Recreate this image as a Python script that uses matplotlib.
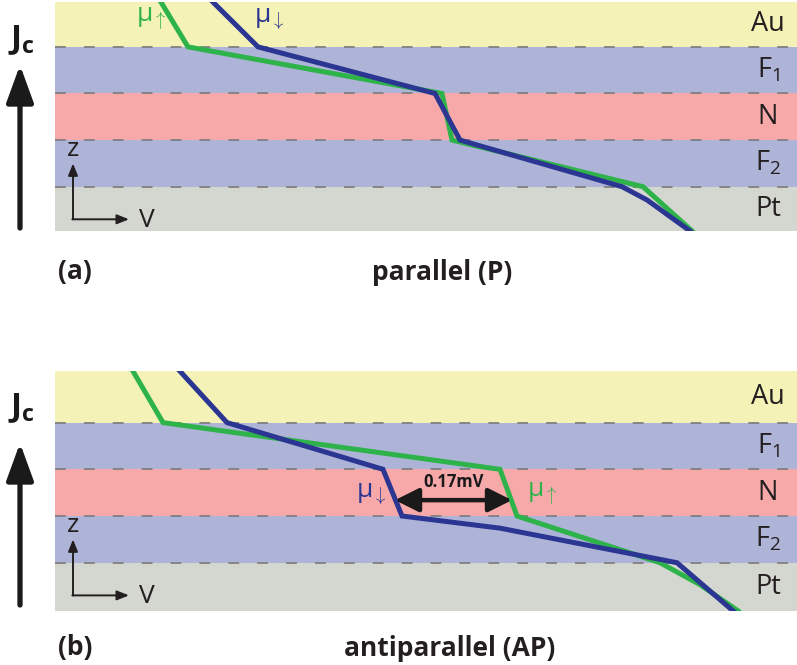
import matplotlib
matplotlib.use("Agg")
import matplotlib.pyplot as plt

plt.rcParams.update({
    "font.family": ["Open Sans", "DejaVu Sans"],
    "mathtext.fontset": "custom",
    "mathtext.rm": "Open Sans",
    "mathtext.it": "Open Sans",
    "mathtext.bf": "Open Sans:bold",
})

# layer stack (bottom -> top), interfaces at z = 0..3
layer_names = ["Pt", "F$_2$", "N", "F$_1$", "Au"]
layer_colors = ["#d4d7d0", "#aeb4d8", "#f7a8a8", "#aeb4d8", "#f5f2b8"]
interfaces = [0, 1, 2, 3]

# parallel (P): electrochemical potentials, V in arb. units vs depth z
z_up_p = [3.96, 3, 2, 1, 0, -0.95]
v_up_p = [106, 133, 387, 397, 588, 637]
z_dn_p = [3.96, 3, 2, 1, 0, -0.285, -0.95]
v_dn_p = [158, 203, 380, 405, 567, 592, 635]

# antiparallel (AP)
z_up_ap = [4.1, 3, 2, 1, 0, -0.47, -1.03]
v_up_ap = [78, 108, 445, 462, 605, 645, 683]
z_dn_ap = [4.1, 3, 2, 1, 0.74, 0, -1.03]
v_dn_ap = [125, 172, 328, 347, 445, 622, 678]

# spin accumulation in N for AP
gap_z = 1.34
gap_v = [340, 457]
gap_label = "0.17mV"

green = "#2eb34a"
blue = "#2b3592"
ink = "#231f20"
W, H = 797, 665

fig = plt.figure(figsize=(W / 100, H / 100), dpi=100)


def panel(rect, zlim, z_up, v_up, z_dn, v_dn):
    ax = fig.add_axes(rect)
    ax.set_xlim(0, 742)
    ax.set_ylim(*zlim)
    bounds = [zlim[0]] + interfaces + [zlim[1]]
    for i, c in enumerate(layer_colors):
        ax.axhspan(bounds[i], bounds[i + 1], color=c, lw=0, zorder=0)
        ax.text(713, (bounds[i] + bounds[i + 1]) / 2, layer_names[i], ha="center",
                va="center", fontsize=19.5, color=ink)
    for z in interfaces:
        ax.axhline(z, color="#808080", lw=1.3, dashes=(6, 10), zorder=1)
    ax.plot(v_up, z_up, color=green, lw=3.6, solid_joinstyle="miter", zorder=3)
    ax.plot(v_dn, z_dn, color=blue, lw=3.6, solid_joinstyle="miter", zorder=4)
    # small z / V axes
    ax.annotate("", xy=(18, 0.5), xytext=(18, -0.7),
                arrowprops=dict(arrowstyle="-|>,head_length=0.55,head_width=0.22",
                                lw=1.4, color=ink, shrinkA=0, shrinkB=0,
                                mutation_scale=13))
    ax.annotate("", xy=(74, -0.7), xytext=(17.3, -0.7),
                arrowprops=dict(arrowstyle="-|>,head_length=0.55,head_width=0.22",
                                lw=1.4, color=ink, shrinkA=0, shrinkB=0,
                                mutation_scale=13))
    ax.text(18, 0.8, "z", ha="center", va="center", fontsize=19, color=ink)
    ax.text(92, -0.72, "V", ha="center", va="center", fontsize=19, color=ink)
    ax.axis("off")
    return ax


ax_p = panel([55 / W, 1 - 231 / H, 742 / W, 229 / H], (-0.951, 3.963),
             z_up_p, v_up_p, z_dn_p, v_dn_p)
ax_ap = panel([55 / W, 1 - 611 / H, 742 / W, 240 / H], (-1.034, 4.105),
              z_up_ap, v_up_ap, z_dn_ap, v_dn_ap)

# mu labels
ax_p.text(81, 3.6, r"μ$_{\uparrow}$", color=green, fontsize=19, va="center")
ax_p.text(199, 3.6, r"μ$_{\downarrow}$", color=blue, fontsize=19, va="center")
ax_ap.text(301, 1.48, r"μ$_{\downarrow}$", color=blue, fontsize=19, va="center")
ax_ap.text(472, 1.48, r"μ$_{\uparrow}$", color=green, fontsize=19, va="center")

ax_ap.annotate("", xy=(gap_v[1], gap_z), xytext=(gap_v[0], gap_z),
               arrowprops=dict(arrowstyle="<|-|>,head_length=0.6,head_width=0.3",
                               lw=3.2, color="#1a1a1a", shrinkA=0, shrinkB=0,
                               mutation_scale=24), zorder=5)
ax_ap.text(sum(gap_v) / 2, gap_z + 0.38, gap_label, ha="center", va="center",
           fontsize=12, fontweight="bold", color="#1a1a1a", zorder=5)

# decorations outside the panels (pixel coords)
deco = fig.add_axes([0, 0, 1, 1])
deco.set_xlim(0, W)
deco.set_ylim(H, 0)
deco.axis("off")
deco.patch.set_visible(False)
for y0, y1, yj in [(228, 65, 40), (605, 443, 408)]:
    deco.annotate("", xy=(20, y1), xytext=(20, y0),
                  arrowprops=dict(arrowstyle="-|>,head_length=0.55,head_width=0.2",
                                  lw=3.8, color="#1a1a1a", shrinkA=0, shrinkB=0,
                                  mutation_scale=41))
    deco.text(8, yj, r"J$_\mathbf{c}$", fontsize=24, fontweight="bold",
              va="center", ha="left", color="#1a1a1a")

deco.text(75, 272, "(a)", fontsize=19, fontweight="bold", ha="center", va="center",
          color=ink)
deco.text(442, 272, "parallel (P)", fontsize=19, fontweight="bold", ha="center",
          va="center", color=ink)
deco.text(75, 648, "(b)", fontsize=19, fontweight="bold", ha="center", va="center",
          color=ink)
deco.text(450, 648, "antiparallel (AP)", fontsize=19, fontweight="bold", ha="center",
          va="center", color=ink)

fig.savefig("out.png", dpi=100)
